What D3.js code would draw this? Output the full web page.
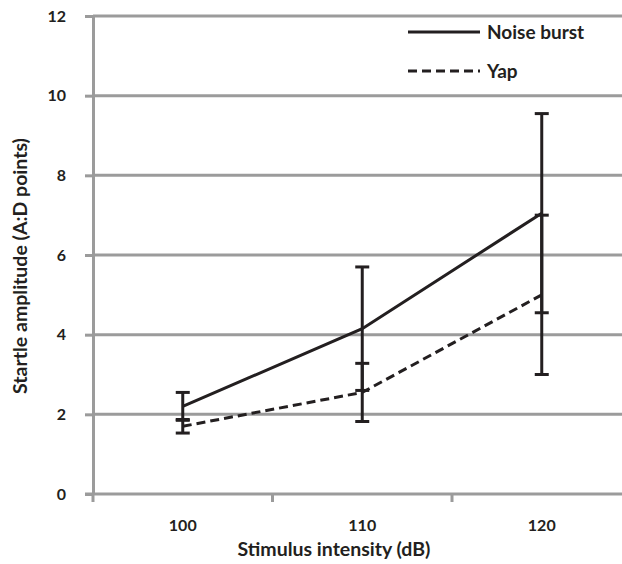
<!DOCTYPE html>
<html><head><meta charset="utf-8">
<script src="https://cdn.jsdelivr.net/npm/d3@7"></script>
<style>body{margin:0;background:#fff}svg{display:block}</style>
</head><body>
<svg id="c" width="622" height="564"></svg>
<script>
const categories = ["100", "110", "120"];
const noiseBurst = [2.2, 4.15, 7.05];
const noiseBurstErr = [0.35, 1.55, 2.5];
const yap = [1.7, 2.55, 5.0];
const yapErr = [0.17, 0.73, 2.0];
const yTicks = [0, 2, 4, 6, 8, 10, 12];
const seriesNames = ["Noise burst", "Yap"];

const svg = d3.select("#c");
const font = "Lato, 'Open Sans', sans-serif";
const gray = "#9b9b9b", ink = "#231f20";
const mLeft = 93, mRight = 631.5, mTop = 16, mBottom = 494;

const x = d3.scaleBand().domain(categories).range([mLeft, mRight]);
const y = d3.scaleLinear().domain([0, 12]).range([mBottom, mTop]);

// gridlines
svg.append("g").selectAll("line").data(yTicks.filter(d => d > 0)).join("line")
  .attr("x1", mLeft).attr("x2", 622).attr("y1", d => y(d)).attr("y2", d => y(d))
  .attr("stroke", gray).attr("stroke-width", 3);

// y axis
const ya = svg.append("g").attr("transform", `translate(${mLeft},0)`)
  .call(d3.axisLeft(y).tickValues(yTicks).tickSize(8).tickSizeOuter(0).tickPadding(19));
ya.select(".domain").attr("stroke", gray).attr("stroke-width", 3);
ya.selectAll(".tick line").attr("stroke", gray).attr("stroke-width", 3);
ya.selectAll(".tick text").attr("font-family", font).attr("font-weight", "bold")
  .attr("font-size", 16).attr("fill", ink);

// x axis
const xa = svg.append("g").attr("transform", `translate(0,${mBottom})`)
  .call(d3.axisBottom(x).tickSize(0).tickPadding(26));
xa.select(".domain").remove();
svg.append("line").attr("x1", mLeft - 8).attr("x2", 622).attr("y1", mBottom).attr("y2", mBottom)
  .attr("stroke", gray).attr("stroke-width", 3);
const bounds = [mLeft, ...categories.slice(1).map(c => x(c)), mRight];
svg.append("g").selectAll("line").data(bounds).join("line")
  .attr("x1", d => d).attr("x2", d => d).attr("y1", mBottom).attr("y2", mBottom + 8)
  .attr("stroke", gray).attr("stroke-width", 3);
xa.selectAll(".tick text").attr("font-family", font).attr("font-weight", "bold")
  .attr("font-size", 16).attr("fill", ink);

const cx = c => x(c) + x.bandwidth() / 2;
const line = d3.line().x(d => cx(d.c)).y(d => y(d.v));

const nb = categories.map((c, i) => ({c, v: noiseBurst[i], e: noiseBurstErr[i]}));
const yp = categories.map((c, i) => ({c, v: yap[i], e: yapErr[i]}));

svg.append("path").datum(yp).attr("d", line).attr("fill", "none")
  .attr("stroke", ink).attr("stroke-width", 3).attr("stroke-dasharray", "9,5");
svg.append("path").datum(nb).attr("d", line).attr("fill", "none")
  .attr("stroke", ink).attr("stroke-width", 3);

function errBars(data) {
  const g = svg.append("g").attr("stroke", ink).attr("stroke-width", 3);
  data.forEach(d => {
    const X = cx(d.c);
    g.append("line").attr("x1", X).attr("x2", X).attr("y1", y(d.v + d.e)).attr("y2", y(d.v - d.e));
    [d.v + d.e, d.v - d.e].forEach(v =>
      g.append("line").attr("x1", X - 7).attr("x2", X + 7).attr("y1", y(v)).attr("y2", y(v)));
  });
}
errBars(yp);
errBars(nb);

// axis titles
svg.append("text").attr("x", 334).attr("y", 556).attr("text-anchor", "middle")
  .attr("font-family", font).attr("font-weight", "bold").attr("font-size", 19.5).attr("fill", ink)
  .text("Stimulus intensity (dB)");
svg.append("text").attr("transform", `translate(27,266) rotate(-90)`)
  .attr("text-anchor", "middle")
  .attr("font-family", font).attr("font-weight", "bold").attr("font-size", 19.5).attr("fill", ink)
  .text("Startle amplitude (A:D points)");

// legend
const lg = svg.append("g");
seriesNames.forEach((n, i) => {
  const ly = 32 + i * 39;
  lg.append("line").attr("x1", 408).attr("x2", 480).attr("y1", ly).attr("y2", ly)
    .attr("stroke", ink).attr("stroke-width", 3)
    .attr("stroke-dasharray", i === 1 ? "9,5" : null);
  lg.append("text").attr("x", 487).attr("y", ly + 7)
    .attr("font-family", font).attr("font-weight", "bold").attr("font-size", 19).attr("fill", ink)
    .text(n);
});
</script>
</body></html>
